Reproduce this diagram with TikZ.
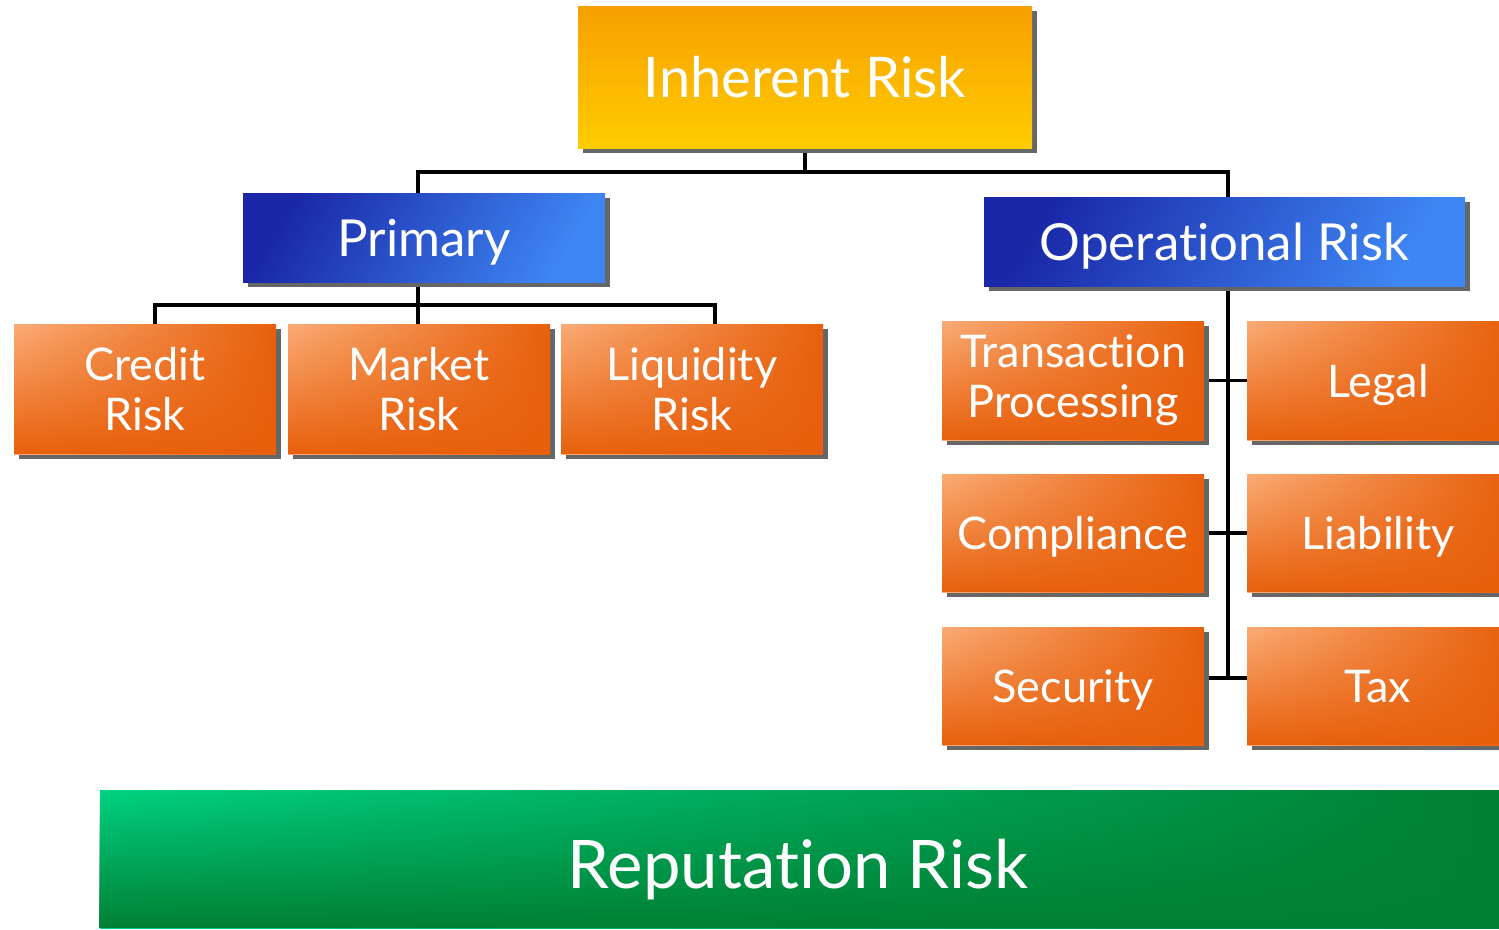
\documentclass[tikz,border=0pt]{standalone}
\usepackage{fontspec}
\setmainfont{Lato}[Ligatures={NoCommon,NoContextual}]
\usetikzlibrary{shadows,fadings,backgrounds}

\definecolor{olight}{RGB}{250,172,118}
\definecolor{odark}{RGB}{232,96,12}
\definecolor{ytop}{RGB}{247,160,0}
\definecolor{ybot}{RGB}{255,204,0}
\definecolor{bnavy}{RGB}{26,40,168}
\definecolor{bmid}{RGB}{42,92,214}
\definecolor{bbright}{RGB}{62,134,243}
\definecolor{gl}{RGB}{0,210,130}
\definecolor{gd}{RGB}{0,128,52}
\definecolor{sgray}{RGB}{102,102,102}

\tikzfading[name=bottomheavy, top color=transparent!100, middle color=transparent!75, bottom color=transparent!0]

\tikzset{
  box/.style={inner sep=0pt, text=white, align=center,
    drop shadow={shadow xshift=5pt, shadow yshift=-5pt, fill=sgray, opacity=1}},
  rootbox/.style={box, minimum width=454pt, minimum height=142pt,
    top color=ytop, bottom color=ybot, text depth=0pt,
    font=\fontsize{56}{64}\selectfont},
  bluebox/.style={box, minimum height=89pt, shading=axis,
    top color=bnavy, middle color=bmid, bottom color=bbright, shading angle=60,
    text depth=0pt, font=\fontsize{51}{58}\selectfont},
  riskbox/.style={box, minimum width=262pt, left color=olight, right color=odark,
    postaction={fill=odark, path fading=bottomheavy},
    font=\fontsize{45}{50}\selectfont},
  onebox/.style={riskbox, text depth=0pt},
  conn/.style={line width=3.5pt, black},
}

\begin{document}
\begin{tikzpicture}[x=1pt, y=-1pt]
  \useasboundingbox (0,0) rectangle (1499,929);
  \begin{scope}
  \clip (0,0) rectangle (1499,929);

  % top level
  \node[rootbox] (inh) at (805,77) {Inherent Risk};

  % second level
  \node[bluebox, minimum width=362pt] (prim) at (424,237.5) {Primary};
  \node[bluebox, minimum width=481pt] (oper) at (1224.5,241.5) {Operational Risk};

  % primary risks
  \node[riskbox, minimum height=130pt] (credit) at (145,389) {Credit\\Risk};
  \node[riskbox, minimum height=130pt] (market) at (419,389) {Market\\Risk};
  \node[riskbox, minimum height=130pt] (liquid) at (692,389) {Liquidity\\Risk};

  % operational risks
  \node[riskbox, minimum height=119pt] (trans) at (1073,380.5) {Transaction\\Processing};
  \node[onebox, minimum height=119pt] (legal) at (1378,380.5) {Legal};
  \node[onebox, minimum height=118pt] (compl) at (1073,533) {Compliance};
  \node[onebox, minimum height=118pt] (liab) at (1378,533) {Liability};
  \node[onebox, minimum height=118pt] (sec) at (1073,686) {Security};
  \node[onebox, minimum height=118pt] (tax) at (1378,686) {Tax};

  % reputation band
  \node[inner sep=0pt, minimum width=1399pt, minimum height=138pt,
        left color=gl, right color=gd,
        postaction={fill=gd, path fading=bottomheavy}] (rep) at (799.5,859) {};
  \node[text=white, font=\fontsize{67}{74}\selectfont, inner sep=0pt, text depth=0pt]
        (reptext) at (798,864) {Reputation Risk};

  % connectors
  \coordinate (xp) at (418,0);
  \coordinate (xo) at (1228,0);
  \coordinate (yt) at (0,172);
  \coordinate (yp) at (0,305);
  \coordinate (xc) at (155,0);
  \coordinate (xl) at (715,0);
  \coordinate (ys) at (0,678);
  \begin{scope}[on background layer]
    \fill[white] (0,0) rectangle (1499,929);
    \draw[conn] (inh.south) -- (inh.south |- yt);
    \draw[conn] (prim.north -| xp) |- (yt -| xo) -- (oper.north -| xo);
    \draw[conn] (prim.south -| xp) -- (market.north -| xp);
    \draw[conn] (credit.north -| xc) |- (yp -| xl) -- (liquid.north -| xl);
    \draw[conn] (oper.south -| xo) -- (ys -| xo);
    \draw[conn] (trans.east) -- (legal.west);
    \draw[conn] (compl.east) -- (liab.west);
    \draw[conn] (sec.east |- ys) -- (tax.west |- ys);
  \end{scope}
  \end{scope}
\end{tikzpicture}
\end{document}
